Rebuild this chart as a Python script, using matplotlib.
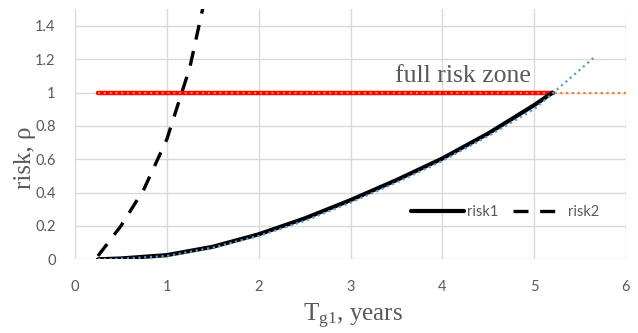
import matplotlib
matplotlib.use("Agg")
import matplotlib.pyplot as plt

plt.rcParams["font.family"] = ["Lato", "DejaVu Sans"]
plt.rcParams["mathtext.fontset"] = "custom"
plt.rcParams["mathtext.rm"] = "Liberation Serif"
plt.rcParams["mathtext.it"] = "Liberation Serif:italic"

# values
risk1_x = [0.25, 0.5, 1, 1.5, 2, 2.5, 3, 3.5, 4, 4.5, 5, 5.2]
risk1_y = [0.0, 0.005, 0.025, 0.075, 0.15, 0.245, 0.355, 0.475, 0.605, 0.755, 0.925, 1.0]

risk2_x = [0.25, 0.5, 0.75, 1.0, 1.25, 1.5]
risk2_y = [0.02, 0.2, 0.42, 0.72, 1.15, 1.78]

trend_x = [0.25, 0.5, 1, 1.5, 2, 2.5, 3, 3.5, 4, 4.5, 5, 5.65]
trend_y = [0.0, 0.003, 0.02, 0.07, 0.14, 0.23, 0.34, 0.46, 0.59, 0.74, 0.90, 1.21]

zone_x = [0.25, 5.2]
zone_y = [1, 1]
level_x = [0.25, 6]
level_y = [1, 1]

xticks = [0, 1, 2, 3, 4, 5, 6]
yticks = [0, 0.2, 0.4, 0.6, 0.8, 1, 1.2, 1.4]
ytick_labels = ["0", "0.2", "0.4", "0.6", "0.8", "1", "1.2", "1.4"]

GRAY = "#595959"
GRID = "#D9D9D9"

fig = plt.figure(figsize=(6.38, 3.33), dpi=100)
ax = fig.add_axes([75 / 638, 1 - 259.3 / 333, 551 / 638, 250 / 333])

ax.plot(zone_x, zone_y, color="#FF0000", lw=3.2, solid_capstyle="round", zorder=3)
ax.plot(level_x, level_y, color="#ED7D31", lw=1.6, ls=(0, (1, 1.6)), zorder=4)
ax.plot(risk1_x, risk1_y, color="black", lw=3, solid_capstyle="round",
        label="risk1", zorder=5)
ax.plot(risk2_x, risk2_y, color="black", lw=2.4, ls=(0, (4.5, 3.5)),
        label="risk2", zorder=5)
ax.plot(trend_x, trend_y, color="#5B9BD5", lw=1.6, ls=(0, (1, 1.6)), zorder=6)

ax.set_xlim(0, 6)
ax.set_ylim(0, 1.5)
ax.set_xticks(xticks)
ax.set_yticks(yticks)
ax.set_yticklabels(ytick_labels)
ax.grid(True, color=GRID, lw=1.0)
ax.set_axisbelow(True)
for s in ax.spines.values():
    s.set_visible(False)
ax.tick_params(length=0, labelsize=10.5, labelcolor=GRAY)
ax.tick_params(axis="x", pad=15)
ax.tick_params(axis="y", pad=14)

ax.text(3.49, 1.064, "full risk zone", family="Liberation Serif",
        fontsize=18.5, color=GRAY, ha="left", va="baseline", zorder=7)

leg = ax.legend(loc="center left", bbox_to_anchor=(0.6, 0.19), ncol=2,
                frameon=False, fontsize=10.5, handlelength=3.6,
                handletextpad=0.2, columnspacing=1.0, borderaxespad=0)
for t in leg.get_texts():
    t.set_color(GRAY)

fig.text(25 / 638, 1 - 158 / 333, "risk, ρ", family="Liberation Serif",
         fontsize=18, color=GRAY, rotation=90, ha="center", va="center")
fig.text(353 / 638, 1 - 321 / 333, r"T$_{\rm g1}$, years",
         family="Liberation Serif", fontsize=18, color=GRAY,
         ha="center", va="baseline")

fig.savefig("out.png", dpi=100)
